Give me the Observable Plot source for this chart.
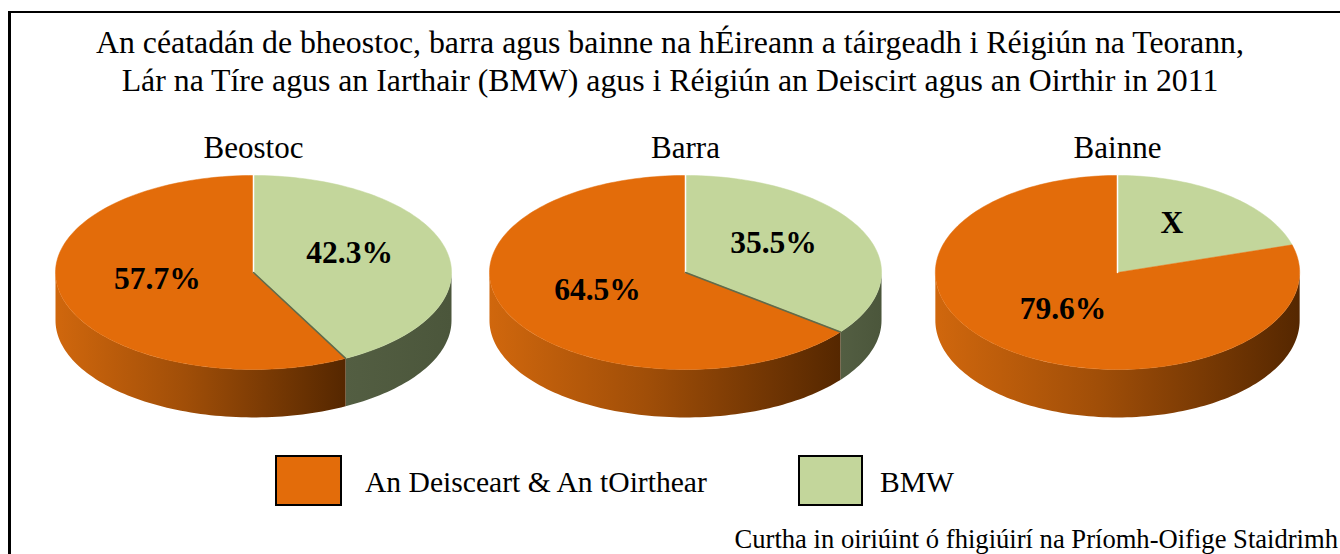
<!DOCTYPE html>
<html>
<head>
<meta charset="utf-8">
<script src="https://cdn.jsdelivr.net/npm/d3@7"></script>
<script src="https://cdn.jsdelivr.net/npm/@observablehq/plot@0.6"></script>
<style>
  html, body { margin: 0; padding: 0; background: #fff; }
  body { width: 1340px; height: 554px; overflow: hidden; position: relative;
         font-family: "Liberation Serif", "Times New Roman", serif; color: #000; }
  #frame { position: absolute; left: 8px; top: 11px; width: 2000px; height: 2000px;
           border-left: 3px solid #000; border-top: 2px solid #000; }
  #title { position: absolute; left: 0; top: 24px; width: 1340px; text-align: center;
           font-size: 31.8px; line-height: 38px; white-space: nowrap; }
  #chart { position: absolute; left: 0; top: 120px; }
  .lg-box { position: absolute; box-sizing: border-box; border: 2px solid #000; }
  .lg-text { position: absolute; font-size: 29.6px; line-height: 30px; white-space: nowrap; }
  #caption { position: absolute; right: 2px; top: 526px; font-size: 26.6px; line-height: 27px; white-space: nowrap; }
</style>
</head>
<body>
<div id="frame"></div>
<div id="title"></div>
<div id="chart"></div>
<div id="legend"></div>
<div id="caption"></div>
<script>
// ---------- data ----------
const titleLines = [
  "An céatadán de bheostoc, barra agus bainne na hÉireann a táirgeadh i Réigiún na Teorann,",
  "Lár na Tíre agus an Iarthair (BMW) agus i Réigiún an Deiscirt agus an Oirthir in 2011"
];
const categories = ["Beostoc", "Barra", "Bainne"];
const seriesNames = ["BMW", "An Deisceart & An tOirthear"];
const bmwValues = [42.3, 35.5, 20.4];
const southEastValues = [57.7, 64.5, 79.6];
const bmwLabels = ["42.3%", "35.5%", "X"];
const southEastLabels = ["57.7%", "64.5%", "79.6%"];
const legendOrder = ["An Deisceart & An tOirthear", "BMW"];
const captionText = "Curtha in oiriúint ó fhigiúirí na Príomh-Oifige Staidrimh";

// ---------- styles / layout ----------
const FONT = "'Liberation Serif', 'Times New Roman', serif";
const topColor = {"BMW": "#c3d69b", "An Deisceart & An tOirthear": "#e36c0a"};
const sideColor = {"BMW": "url(#sideGreen)", "An Deisceart & An tOirthear": "url(#sideOrange)"};
const radiusX = [1, 0.99, 0.92];  // relative horizontal radius of each pie
const tilt = 0.49;                 // vertical squash of the top ellipse
const depth = 0.242;               // thickness of the pie
const labelR = 0.5, labelTilt = 0.54, labelLift = 0.033;

document.getElementById("title").innerHTML = titleLines.join("<br>");
document.getElementById("caption").textContent = captionText;

// ---------- build slice geometry from the values ----------
const TAU = 2 * Math.PI;
const topPts = [], sidePts = [], edgePts = [], labelData = [];
categories.forEach((cat, i) => {
  const rx = radiusX[i];
  const parts = [
    {name: seriesNames[0], value: bmwValues[i], label: bmwLabels[i]},
    {name: seriesNames[1], value: southEastValues[i], label: southEastLabels[i]}
  ];
  const total = d3.sum(parts, p => p.value);
  let a0 = 0;
  parts.forEach((p, j) => {
    const a1 = a0 + p.value / total * TAU;
    const key = cat + "|" + p.name;
    const n = Math.max(2, Math.ceil((a1 - a0) / TAU * 240));
    // top face
    topPts.push({pie: cat, key, part: p.name, x: 0, y: 0});
    for (let k = 0; k <= n; k++) {
      const t = a0 + (a1 - a0) * k / n;
      topPts.push({pie: cat, key, part: p.name, x: rx * Math.sin(t), y: tilt * Math.cos(t)});
    }
    // visible side wall (front half)
    const s0 = Math.max(a0, Math.PI / 2), s1 = Math.min(a1, 3 * Math.PI / 2);
    if (s1 > s0) {
      const m = Math.max(2, Math.ceil((s1 - s0) / TAU * 240));
      for (let k = 0; k <= m; k++) {
        const t = s0 + (s1 - s0) * k / m;
        sidePts.push({pie: cat, key, part: p.name, x: rx * Math.sin(t), y: tilt * Math.cos(t)});
      }
      for (let k = m; k >= 0; k--) {
        const t = s0 + (s1 - s0) * k / m;
        sidePts.push({pie: cat, key, part: p.name, x: rx * Math.sin(t), y: tilt * Math.cos(t) - depth});
      }
    }
    // radial edge lines on the top face
    if (j === 0) {
      edgePts.push({pie: cat, key: key + "s", kind: "start", x: 0, y: 0});
      edgePts.push({pie: cat, key: key + "s", kind: "start", x: rx * Math.sin(a0), y: tilt * Math.cos(a0)});
      if (Math.cos(a1) < 0) {
        edgePts.push({pie: cat, key: key + "e", kind: "end", x: 0, y: 0});
        edgePts.push({pie: cat, key: key + "e", kind: "end", x: rx * Math.sin(a1), y: tilt * Math.cos(a1)});
      }
    }
    // label at the slice's middle angle
    const mid = (a0 + a1) / 2;
    labelData.push({pie: cat, text: p.label,
      x: labelR * rx * Math.sin(mid), y: labelLift + labelR * labelTilt * Math.cos(mid)});
    a0 = a1;
  });
});

const W = 1340, H = 330, unitPx = 198, centerY = 152; // centre of top ellipse in svg px
const xHalf = 216 / unitPx;

const marks = [];
seriesNames.forEach(name => {
  marks.push(Plot.line(sidePts.filter(d => d.part === name),
    {fx: "pie", x: "x", y: "y", z: "key", fill: sideColor[name], stroke: "none", curve: "linear"}));
});
seriesNames.forEach(name => {
  marks.push(Plot.line(topPts.filter(d => d.part === name),
    {fx: "pie", x: "x", y: "y", z: "key", fill: topColor[name], stroke: topColor[name], strokeWidth: 0.5, curve: "linear"}));
});
marks.push(Plot.line(edgePts.filter(d => d.kind === "start"),
  {fx: "pie", x: "x", y: "y", z: "key", stroke: "#ffffff", strokeWidth: 1.5}));
marks.push(Plot.line(edgePts.filter(d => d.kind === "end"),
  {fx: "pie", x: "x", y: "y", z: "key", stroke: "#5f6b4c", strokeWidth: 1.5}));
marks.push(Plot.text(labelData,
  {fx: "pie", x: "x", y: "y", text: "text", fontWeight: "bold", fontSize: 31.5, fontFamily: FONT, fill: "#000"}));
marks.push(Plot.text(categories,
  {fx: d => d, text: d => d, frameAnchor: "top", dy: 15, fontSize: 31, fontFamily: FONT, fill: "#000"}));

const chart = Plot.plot({
  width: W, height: H,
  marginTop: 0, marginBottom: 0, marginLeft: 37, marginRight: 7,
  style: {fontFamily: FONT, background: "transparent", overflow: "visible"},
  fx: {domain: categories, padding: 0, axis: null},
  x: {domain: [-xHalf, xHalf], axis: null},
  y: {domain: [-(H - centerY) / unitPx, centerY / unitPx], axis: null},
  marks
});

const svg = d3.select(chart);
const defs = svg.insert("defs", ":first-child");
const gO = defs.append("linearGradient").attr("id", "sideOrange")
  .attr("x1", 0).attr("y1", 0).attr("x2", 1).attr("y2", 0);
[[0, "#d0670d"], [0.45, "#a04e08"], [1, "#552700"]].forEach(([o, c]) =>
  gO.append("stop").attr("offset", o).attr("stop-color", c));
const gG = defs.append("linearGradient").attr("id", "sideGreen")
  .attr("x1", 0).attr("y1", 0).attr("x2", 1).attr("y2", 0);
[[0, "#535e42"], [1, "#4b563b"]].forEach(([o, c]) =>
  gG.append("stop").attr("offset", o).attr("stop-color", c));

document.getElementById("chart").appendChild(chart);

// ---------- legend ----------
const legendLayout = [
  {box: [275, 455, 67, 51], text: 365},
  {box: [798, 455, 65, 51], text: 880}
];
const legend = document.getElementById("legend");
legendOrder.forEach((name, i) => {
  const L = legendLayout[i];
  const b = document.createElement("div");
  b.className = "lg-box";
  Object.assign(b.style, {left: L.box[0] + "px", top: L.box[1] + "px", width: L.box[2] + "px",
    height: L.box[3] + "px", background: topColor[name]});
  legend.appendChild(b);
  const t = document.createElement("div");
  t.className = "lg-text";
  Object.assign(t.style, {left: L.text + "px", top: "467px"});
  t.textContent = name;
  legend.appendChild(t);
});
</script>
</body>
</html>
